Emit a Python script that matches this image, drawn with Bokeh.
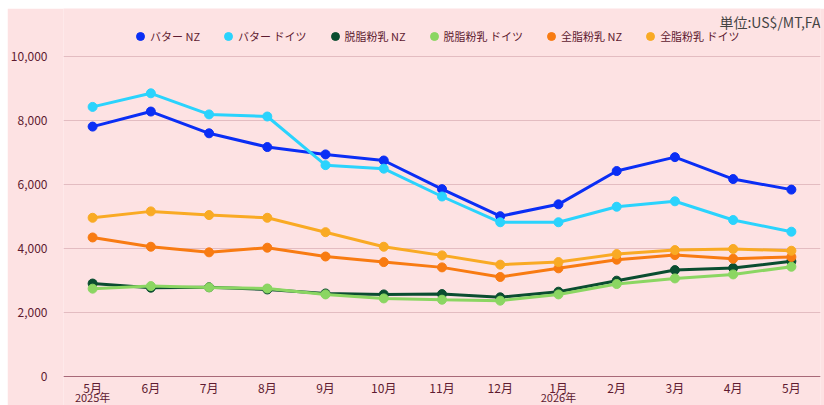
from bokeh.plotting import figure
from bokeh.models import (ColumnDataSource, Legend, LegendItem, FixedTicker,
                          NumeralTickFormatter, Range1d, Label, Span)
from bokeh.core.properties import value
from bokeh.embed import file_html
from bokeh.resources import INLINE

months = ["5月", "6月", "7月", "8月", "9月", "10月", "11月", "12月",
          "1月", "2月", "3月", "4月", "5月"]
year_pos = [0, 8]
year_labels = ["2025年", "2026年"]

butter_nz = [7810, 8280, 7600, 7170, 6940, 6750, 5855, 5010, 5380, 6420, 6855, 6170, 5840]
butter_de = [8425, 8850, 8190, 8125, 6605, 6495, 5625, 4820, 4820, 5305, 5475, 4890, 4525]
smp_nz = [2905, 2775, 2790, 2720, 2595, 2565, 2575, 2475, 2650, 2995, 3325, 3390, 3600]
smp_de = [2745, 2825, 2785, 2750, 2565, 2440, 2400, 2370, 2565, 2890, 3065, 3190, 3430]
wmp_nz = [4345, 4055, 3880, 4025, 3750, 3575, 3410, 3110, 3380, 3650, 3795, 3680, 3735]
wmp_de = [4960, 5160, 5045, 4960, 4510, 4055, 3785, 3495, 3575, 3825, 3950, 3985, 3930]

series_names = ["バター NZ", "バター ドイツ", "脱脂粉乳 NZ", "脱脂粉乳 ドイツ", "全脂粉乳 NZ", "全脂粉乳 ドイツ"]
series_values = [butter_nz, butter_de, smp_nz, smp_de, wmp_nz, wmp_de]
series_colors = ["#0a2ef5", "#2ad3fd", "#0a4d30", "#8bd662", "#f87b12", "#f9aa24"]

y_ticks = [0, 2000, 4000, 6000, 8000, 10000]
unit_text = "単位:US$/MT,FA"

FONT = "Noto Sans CJK JP"
TEXT_COLOR = "#5e1a30"
BG = "#fde2e3"

x = list(range(len(months)))
PX = 1000 / 32.0  # data units per pixel

p = figure(width=817, height=397, output_backend="svg", toolbar_location=None,
           x_range=Range1d(-0.5, len(months) - 0.5), y_range=Range1d(-29 * PX, 11500),
           min_border_left=56, min_border_right=4, min_border_top=0, min_border_bottom=0,
           x_axis_location=None)
p.margin = (8, 0, 0, 7)
p.background_fill_color = BG
p.border_fill_color = BG
p.outline_line_color = None

p.xgrid.grid_line_color = None
p.ygrid.grid_line_color = "#e3bcc1"
p.ygrid.grid_line_width = 1

p.yaxis.ticker = FixedTicker(ticks=y_ticks)
p.yaxis.formatter = NumeralTickFormatter(format="0,0")
p.yaxis.axis_line_color = None
p.yaxis.major_tick_line_color = None
p.yaxis.minor_tick_line_color = None
p.yaxis.major_label_text_font = FONT
p.yaxis.major_label_text_font_size = "12px"
p.yaxis.major_label_text_color = TEXT_COLOR
p.yaxis.major_label_standoff = 10

p.add_layout(Span(location=0, dimension="width", line_color="#a86878", line_width=1))

month_src = ColumnDataSource(dict(x=x, y=[-2 * PX] * len(x), t=months))
p.text("x", "y", text="t", source=month_src, text_align="center", text_baseline="top",
       text_font=value(FONT), text_font_size="12px", text_color=TEXT_COLOR)
year_src = ColumnDataSource(dict(x=year_pos, y=[-12.5 * PX] * len(year_pos), t=year_labels))
p.text("x", "y", text="t", source=year_src, text_align="center", text_baseline="top",
       text_font=value(FONT), text_font_size="11px", text_color=TEXT_COLOR)

items = []
for name, vals, col in zip(series_names, series_values, series_colors):
    src = ColumnDataSource(dict(x=x, y=vals))
    p.line("x", "y", source=src, line_color=col, line_width=3)
    r = p.scatter("x", "y", source=src, size=9, fill_color=col, line_color=col)
    items.append(LegendItem(label=name, renderers=[r]))

legend = Legend(items=items, orientation="horizontal", location=(67, 359),
                label_text_font=FONT, label_text_font_size="11px",
                label_text_color=TEXT_COLOR, background_fill_alpha=0,
                border_line_color=None, glyph_width=20, glyph_height=20,
                label_height=20, label_standoff=0, spacing=18, padding=5, margin=0)
p.add_layout(legend)

unit = Label(x=len(months) - 0.5, y=11500, y_offset=-3, text=unit_text, text_align="right",
             text_baseline="top", text_font=FONT, text_font_size="14px",
             text_color="#444444")
p.add_layout(unit)

open("out.html", "w").write(file_html(p, INLINE))
